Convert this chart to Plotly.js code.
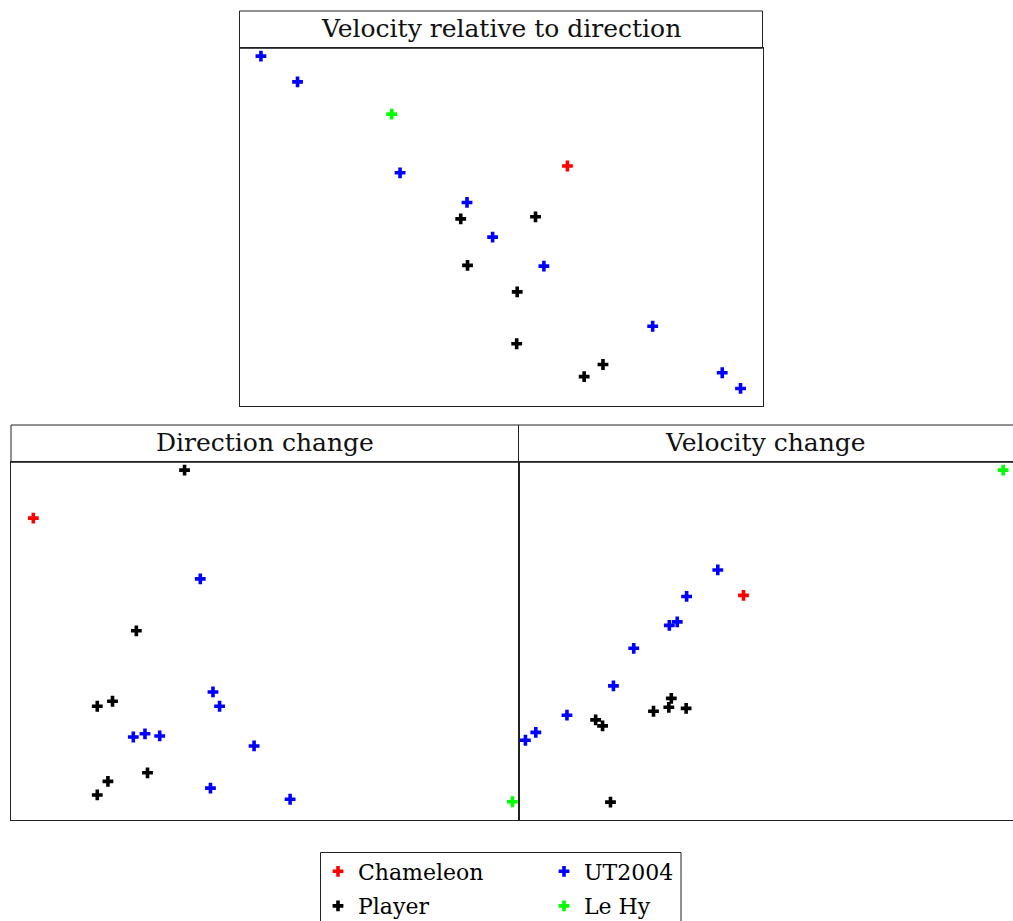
<!DOCTYPE html>
<html><head><meta charset="utf-8">
<script src="https://cdn.plot.ly/plotly-3.0.1.min.js"></script>
<style>html,body{margin:0;padding:0;overflow:hidden;background:#fff}</style>
</head><body><div id="chart" style="width:1013px;height:921px"></div>
<script>
// ---- Series ----
const seriesNames = ['Chameleon', 'Player', 'UT2004', 'Le Hy'];
const seriesColors = ['#ff0000', '#000000', '#0000ff', '#00ff00'];
const panelTitles = ['Velocity relative to direction', 'Direction change', 'Velocity change'];

// ---- Panel 1: Velocity relative to direction ----
const velDirChameleonX = [0.627];
const velDirChameleonY = [0.671];
const velDirPlayerX = [0.423, 0.566, 0.436, 0.531, 0.530, 0.659, 0.695];
const velDirPlayerY = [0.523, 0.529, 0.393, 0.319, 0.174, 0.082, 0.116];
const velDirUT2004X = [0.041, 0.111, 0.307, 0.435, 0.484, 0.582, 0.790, 0.923, 0.958];
const velDirUT2004Y = [0.978, 0.906, 0.652, 0.569, 0.472, 0.391, 0.223, 0.093, 0.049];
const velDirLeHyX = [0.291];
const velDirLeHyY = [0.816];

// ---- Panel 2: Direction change ----
const dirChChameleonX = [0.044];
const dirChChameleonY = [0.844];
const dirChPlayerX = [0.342, 0.247, 0.170, 0.200, 0.269, 0.191, 0.170];
const dirChPlayerY = [0.978, 0.529, 0.318, 0.332, 0.132, 0.108, 0.070];
const dirChUT2004X = [0.373, 0.398, 0.411, 0.241, 0.264, 0.293, 0.479, 0.393, 0.550];
const dirChUT2004Y = [0.674, 0.358, 0.318, 0.232, 0.241, 0.235, 0.207, 0.089, 0.058];
const dirChLeHyX = [0.988];
const dirChLeHyY = [0.051];

// ---- Panel 3: Velocity change ----
const velChChameleonX = [0.455];
const velChChameleonY = [0.628];
const velChPlayerX = [0.309, 0.304, 0.339, 0.273, 0.156, 0.170, 0.186];
const velChPlayerY = [0.340, 0.315, 0.312, 0.304, 0.280, 0.263, 0.050];
const velChUT2004X = [0.403, 0.340, 0.321, 0.305, 0.233, 0.192, 0.098, 0.035, 0.014];
const velChUT2004Y = [0.699, 0.625, 0.554, 0.544, 0.480, 0.375, 0.293, 0.245, 0.223];
const velChLeHyX = [0.980];
const velChLeHyY = [0.978];

const panels = [
  {xa: 'x', ya: 'y', data: [[velDirChameleonX, velDirChameleonY], [velDirPlayerX, velDirPlayerY], [velDirUT2004X, velDirUT2004Y], [velDirLeHyX, velDirLeHyY]]},
  {xa: 'x2', ya: 'y2', data: [[dirChChameleonX, dirChChameleonY], [dirChPlayerX, dirChPlayerY], [dirChUT2004X, dirChUT2004Y], [dirChLeHyX, dirChLeHyY]]},
  {xa: 'x3', ya: 'y3', data: [[velChChameleonX, velChChameleonY], [velChPlayerX, velChPlayerY], [velChUT2004X, velChUT2004Y], [velChLeHyX, velChLeHyY]]}
];

const W = 1013, H = 921;
const px = v => v / W;
const py = v => 1 - v / H;

const traces = [];
panels.forEach((p, pi) => {
  seriesNames.forEach((name, si) => {
    traces.push({
      type: 'scatter', mode: 'markers',
      x: p.data[si][0], y: p.data[si][1],
      xaxis: p.xa, yaxis: p.ya,
      name: name,
      legendgroup: name,
      legend: (si === 0 || si === 1) ? 'legend' : 'legend2',
      showlegend: pi === 0,
      cliponaxis: false,
      marker: {symbol: 'cross', size: 9, color: seriesColors[si], line: {width: 0}},
      hoverinfo: 'skip'
    });
  });
});

const axisBase = {
  range: [0, 1], showline: true, mirror: true, linecolor: '#222', linewidth: 1,
  showticklabels: false, ticks: '', showgrid: false, zeroline: false, fixedrange: true
};

const boxes = [
  {x0: 239.5, x1: 762.5, top: 11, head: 48.3, bottom: 406},
  {x0: 11, x1: 518.5, top: 425, head: 462.3, bottom: 820},
  {x0: 518.5, x1: 1013, top: 425, head: 462.3, bottom: 820}
];

const shapes = boxes.map(b => ({
  type: 'rect', xref: 'paper', yref: 'paper',
  x0: px(b.x0), x1: px(b.x1 === 1013 ? 1020 : b.x1), y0: py(b.head), y1: py(b.top),
  line: {color: '#222', width: 1}, fillcolor: 'rgba(0,0,0,0)'
}));
shapes.push({
  type: 'rect', xref: 'paper', yref: 'paper',
  x0: px(320.5), x1: px(681), y0: py(935), y1: py(852.5),
  line: {color: '#222', width: 1}, fillcolor: 'rgba(0,0,0,0)'
});

const annotations = boxes.map((b, i) => ({
  xref: 'paper', yref: 'paper', x: px((b.x0 + b.x1) / 2), y: py((b.top + b.head) / 2 - 1),
  xanchor: 'center', yanchor: 'middle', showarrow: false,
  text: panelTitles[i],
  font: {family: 'DejaVu Serif, serif', size: 25, color: '#111'}
}));

const legendBase = {
  orientation: 'v', xanchor: 'left', yanchor: 'top', bgcolor: 'rgba(0,0,0,0)',
  borderwidth: 0, traceorder: 'grouped', tracegroupgap: 3,
  font: {family: 'DejaVu Serif, serif', size: 22, color: '#000'}
};

const layout = {
  width: W, height: H,
  margin: {l: 0, r: 0, t: 0, b: 0, autoexpand: false},
  paper_bgcolor: '#fff', plot_bgcolor: '#fff',
  showlegend: true,
  xaxis: Object.assign({}, axisBase, {domain: [px(239.5), px(762.5)], anchor: 'y'}),
  yaxis: Object.assign({}, axisBase, {domain: [py(406), py(48.3)], anchor: 'x'}),
  xaxis2: Object.assign({}, axisBase, {domain: [px(11), px(518.5)], anchor: 'y2'}),
  yaxis2: Object.assign({}, axisBase, {domain: [py(820), py(462.3)], anchor: 'x2'}),
  xaxis3: Object.assign({}, axisBase, {domain: [px(518.5), 1], anchor: 'y3'}),
  yaxis3: Object.assign({}, axisBase, {domain: [py(820), py(462.3)], anchor: 'x3'}),
  legend: Object.assign({}, legendBase, {x: px(318), y: py(850.5)}),
  legend2: Object.assign({}, legendBase, {x: px(544), y: py(850.5)}),
  shapes: shapes,
  annotations: annotations
};

Plotly.newPlot('chart', traces, layout, {displayModeBar: false, staticPlot: true});
</script>
</body></html>
